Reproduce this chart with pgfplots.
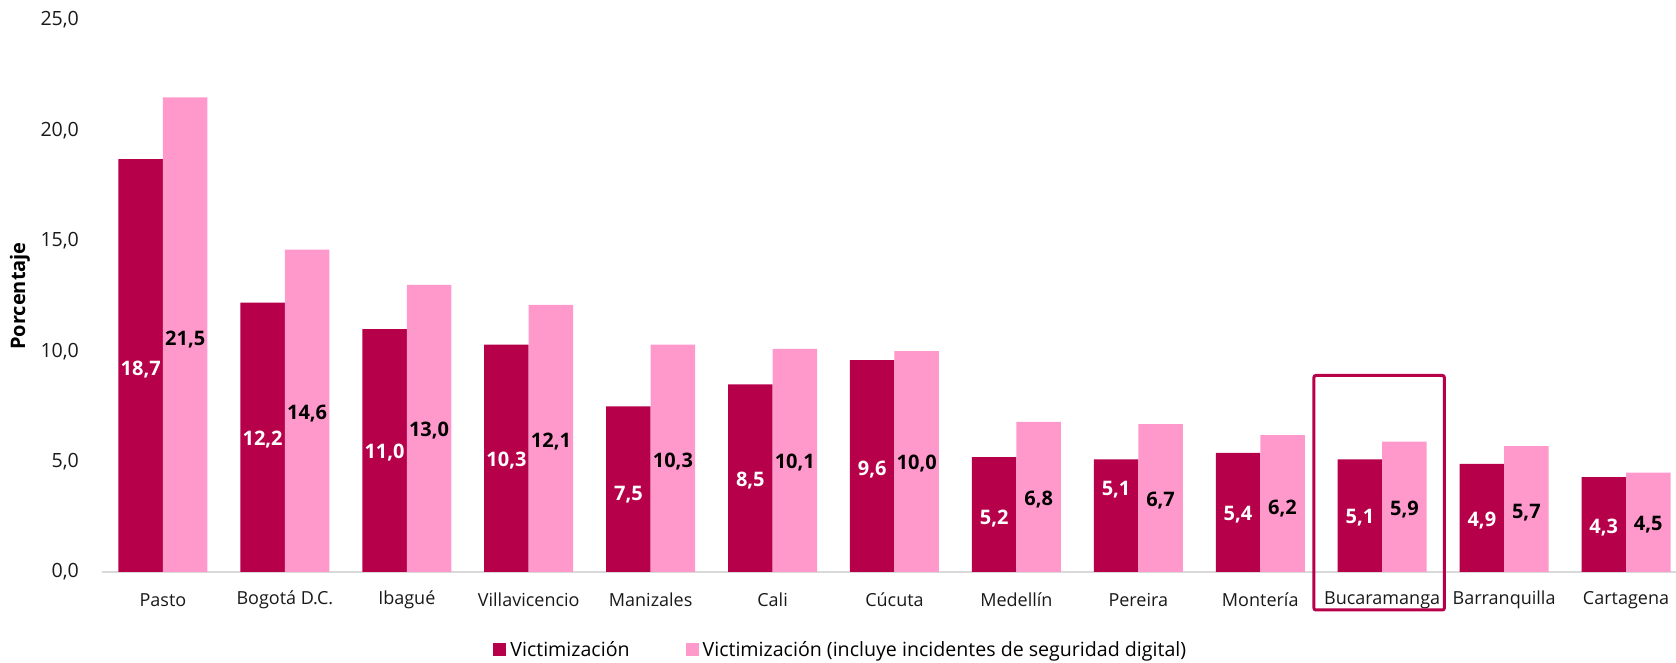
\documentclass[border=0pt]{standalone}
\usepackage{fontspec}
\setmainfont{Open Sans}
\usepackage{pgfplots}
\pgfplotsset{compat=1.18}
\usepackage{pgfplotstable}
\definecolor{darkc}{RGB}{183,0,74}
\definecolor{pinkc}{RGB}{255,153,204}
\definecolor{axisgray}{RGB}{217,217,217}

\pgfplotstableread{
x y ly
0 18.7 9.19
1 12.2 5.98
2 11.0 5.42
3 10.3 5.04
4 7.5 3.52
5 8.5 4.14
6 9.6 4.65
7 5.2 2.43
8 5.1 3.71
9 5.4 2.58
10 5.1 2.45
11 4.9 2.32
12 4.3 2.00
}\darkdata

\pgfplotstableread{
x y ly
0 21.5 10.55
1 14.6 7.19
2 13.0 6.39
3 12.1 5.90
4 10.3 5.00
5 10.1 4.95
6 10.0 4.92
7 6.8 3.26
8 6.7 3.22
9 6.2 2.88
10 5.9 2.85
11 5.7 2.70
12 4.5 2.13
}\pinkdata

\begin{document}
\begin{tikzpicture}
\begin{axis}[
  name=ax,
  scale only axis,
  width=787pt, height=276pt,
  xmin=-0.5, xmax=12.41,
  ymin=0, ymax=25,
  ybar, bar width=0.365,
  axis x line*=bottom, axis y line*=left,
  y axis line style={draw=none},
  x axis line style={-, draw=axisgray, line width=1pt},
  major tick length=0pt,
  xtick={0,1,...,12},
  xticklabels={Pasto, Bogotá D.C., Ibagué, Villavicencio, Manizales, Cali, Cúcuta, Medellín, Pereira, Montería, Bucaramanga, Barranquilla, Cartagena},
  ytick={0,5,...,25},
  tick label style={text=black!90},
  x tick label style={font=\fontsize{9}{11}\selectfont, anchor=center, yshift=-14pt},
  y tick label style={font=\fontsize{9.8}{11}\selectfont, anchor=east, xshift=-8pt},
  ylabel={Porcentaje},
  every axis y label/.style={at={(axis description cs:0,0.5)}, xshift=-41pt, rotate=90, anchor=center, font=\fontsize{10}{12}\selectfont\bfseries},
  legend columns=2,
  legend style={draw=none, at={(0.47,0)}, anchor=center, yshift=-39pt, font=\fontsize{9.8}{11}\selectfont, /tikz/every even column/.append style={column sep=26pt}},
  legend image code/.code={\fill[#1] (0pt,-3.25pt) rectangle (6.5pt,3.25pt);},
  clip=false,
  nodes near coords,
  visualization depends on={\thisrow{ly}-\thisrow{y} \as \dly},
  every node near coord/.append style={anchor=center, yshift={\dly*11.04pt}, font=\fontsize{10}{12}\selectfont\bfseries},
  /pgf/number format/.cd, use comma, fixed, fixed zerofill, precision=1, assume math mode=true
]
\addplot[fill=darkc, draw=none, bar shift=-0.1825, every node near coord/.append style={text=white}] table[x=x, y=y] {\darkdata};
\addlegendentry{Victimización}
\addplot[fill=pinkc, draw=none, bar shift=0.1825, every node near coord/.append style={text=black}] table[x=x, y=y] {\pinkdata};
\addlegendentry{Victimización (incluye incidentes de seguridad digital)}
\draw[darkc, line width=1.5pt, rounded corners=1pt] (axis cs:9.44,8.9) rectangle (axis cs:10.51,-1.72);
\end{axis}
\pgfresetboundingbox
\path (ax.south west) ++(-51pt,-45.5pt) rectangle ++(838pt,331.5pt);
\end{tikzpicture}
\end{document}
